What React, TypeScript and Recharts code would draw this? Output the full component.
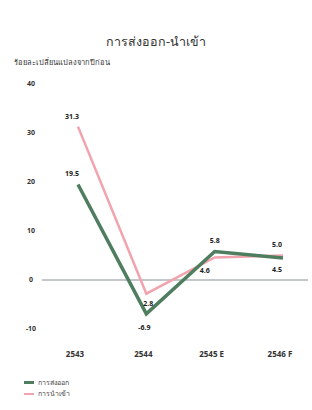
import React from "react";
import { LineChart, Line, XAxis, YAxis, ReferenceLine, LabelList } from "recharts";

// ปี (E = ประมาณการ, F = คาดการณ์)
const years = ["2543", "2544", "2545 E", "2546 F"];
// ร้อยละการเปลี่ยนแปลง
const exportsGrowth = [19.5, -6.9, 5.8, 4.5];
const importsGrowth = [31.3, -2.8, 4.6, 5.0];
// ป้ายตัวเลขตามที่พิมพ์ในภาพต้นฉบับ
const exportLabels = ["19.5", "-6.9", "5.8", "4.5"];
const importLabels = ["31.3", "2.8", "4.6", "5.0"];
const yTicks = [-10, 0, 10, 20, 30, 40];

const EXPORT_COLOR = "#4f7d5f";
const IMPORT_COLOR = "#f2a3ae";
const FONT = "'Noto Sans', 'DejaVu Sans', sans-serif";

const data = years.map((year, i) => ({
  year,
  exports: exportsGrowth[i],
  imports: importsGrowth[i],
}));

// label placement per point: [dx, dy]
const exportOffsets = [[-6, -10], [-2, 14], [0, -10], [-6, 12]];
const importOffsets = [[-6, -10], [2, 10], [-10, 14], [-6, -10]];

const makeLabel = (offsets: number[][], labels: string[]) => (props: any) => {
  const { x, y, index } = props;
  const [dx, dy] = offsets[index] || [0, 0];
  return (
    <text
      x={x + dx}
      y={y + dy}
      textAnchor="middle"
      dominantBaseline="middle"
      fontSize={7}
      fontWeight="bold"
      fill="#222"
      fontFamily={FONT}
    >
      {labels[index]}
    </text>
  );
};

const YTick = ({ y, payload }: any) => (
  <text x={31} y={y} textAnchor="middle" dominantBaseline="middle" fontSize={7} fontWeight="bold" fill="#333" fontFamily={FONT}>
    {payload.value}
  </text>
);

const XTick = ({ x, y, payload }: any) => (
  <text x={x - 3} y={y} textAnchor="middle" dominantBaseline="middle" fontSize={8} fontWeight="bold" fill="#333" fontFamily={FONT}>
    {payload.value}
  </text>
);

export default function App() {
  return (
    <div
      style={{
        position: "absolute",
        left: 0,
        top: 0,
        width: 312,
        height: 410,
        background: "#fff",
        fontFamily: FONT,
        overflow: "hidden",
      }}
    >
      <div style={{ position: "absolute", top: 32, width: 312, textAlign: "center", fontSize: 12.5, color: "#333" }}>
        การส่งออก-นำเข้า
      </div>
      <div style={{ position: "absolute", top: 56, left: 14, fontSize: 7.5, color: "#333" }}>
        ร้อยละเปลี่ยนแปลงจากปีก่อน
      </div>

      <div style={{ position: "absolute", top: 0, left: 0 }}>
        <LineChart width={312} height={375} data={data} margin={{ top: 84, right: 4, bottom: 0, left: 0 }}>
          <XAxis
            dataKey="year"
            axisLine={false}
            tickLine={false}
            padding={{ left: 36, right: 25 }}
            tick={<XTick />}
            tickMargin={20}
            height={46}
          />
          <YAxis
            domain={[-10, 40]}
            ticks={yTicks}
            axisLine={false}
            tickLine={false}
            tick={<YTick />}
            width={42}
          />
          <ReferenceLine y={0} stroke="#8a9096" strokeWidth={1} />
          <Line
            dataKey="imports"
            stroke={IMPORT_COLOR}
            strokeWidth={2.5}
            dot={false}
            isAnimationActive={false}
          >
            <LabelList dataKey="imports" content={makeLabel(importOffsets, importLabels)} />
          </Line>
          <Line
            dataKey="exports"
            stroke={EXPORT_COLOR}
            strokeWidth={3.5}
            dot={false}
            isAnimationActive={false}
          >
            <LabelList dataKey="exports" content={makeLabel(exportOffsets, exportLabels)} />
          </Line>
        </LineChart>
      </div>

      <div style={{ position: "absolute", top: 377, left: 24, fontSize: 7, color: "#444", lineHeight: "11px" }}>
        <div style={{ display: "flex", alignItems: "center", gap: 4 }}>
          <span style={{ width: 10, height: 3, background: EXPORT_COLOR, display: "inline-block" }} />
          การส่งออก
        </div>
        <div style={{ display: "flex", alignItems: "center", gap: 4 }}>
          <span style={{ width: 10, height: 2, background: IMPORT_COLOR, display: "inline-block" }} />
          การนำเข้า
        </div>
      </div>
    </div>
  );
}
